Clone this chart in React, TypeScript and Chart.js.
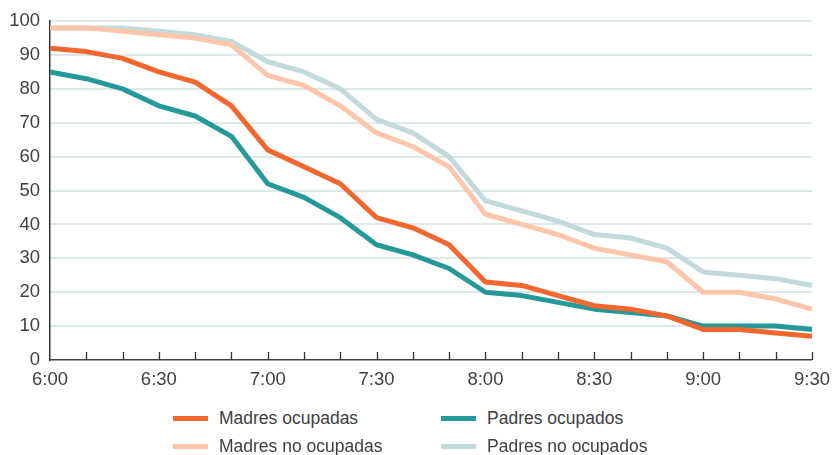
import React, { useEffect, useRef } from "react";
import { Chart, registerables } from "chart.js";

Chart.register(...registerables);

const times = [
  "6:00", "6:10", "6:20", "6:30", "6:40", "6:50",
  "7:00", "7:10", "7:20", "7:30", "7:40", "7:50",
  "8:00", "8:10", "8:20", "8:30", "8:40", "8:50",
  "9:00", "9:10", "9:20", "9:30",
];
const shownTimeLabels = ["6:00", "6:30", "7:00", "7:30", "8:00", "8:30", "9:00", "9:30"];

const madresOcupadas = [92, 91, 89, 85, 82, 75, 62, 57, 52, 42, 39, 34, 23, 22, 19, 16, 15, 13, 9, 9, 8, 7];
const padresOcupados = [85, 83, 80, 75, 72, 66, 52, 48, 42, 34, 31, 27, 20, 19, 17, 15, 14, 13, 10, 10, 10, 9];
const madresNoOcupadas = [98, 98, 97, 96, 95, 93, 84, 81, 75, 67, 63, 57, 43, 40, 37, 33, 31, 29, 20, 20, 18, 15];
const padresNoOcupados = [98, 98, 98, 97, 96, 94, 88, 85, 80, 71, 67, 60, 47, 44, 41, 37, 36, 33, 26, 25, 24, 22];

const seriesNames = ["Madres ocupadas", "Padres ocupados", "Madres no ocupadas", "Padres no ocupados"];
const seriesColors = ["#f2662f", "#25989a", "#fdc6aa", "#c3d9db"];

const FONT = "'Liberation Sans', Arial, sans-serif";

const upTicksPlugin = {
  id: "upTicks",
  afterDraw(chart: any) {
    const xs = chart.scales.x;
    const bottom = chart.chartArea.bottom;
    const ctx = chart.ctx;
    ctx.save();
    ctx.strokeStyle = "#333333";
    ctx.lineWidth = 1.3;
    for (let i = 1; i < times.length; i++) {
      const x = Math.round(xs.getPixelForValue(i)) + 0.5;
      ctx.beginPath();
      ctx.moveTo(x, bottom - 8);
      ctx.lineTo(x, bottom);
      ctx.stroke();
    }
    ctx.restore();
  },
};

export default function App() {
  const canvasRef = useRef<HTMLCanvasElement | null>(null);

  useEffect(() => {
    if (!canvasRef.current) return;
    const allSeries = [madresOcupadas, padresOcupados, madresNoOcupadas, padresNoOcupados];
    const chart = new Chart(canvasRef.current, {
      type: "line",
      data: {
        labels: times,
        datasets: allSeries.map((d, i) => ({
          label: seriesNames[i],
          data: d,
          borderColor: seriesColors[i],
          backgroundColor: seriesColors[i],
          borderWidth: 5,
          pointRadius: 0,
          tension: 0,
          fill: false,
          borderJoinStyle: "round" as const,
        })),
      },
      options: {
        responsive: false,
        animation: false,
        layout: { padding: { left: 0, right: 21, top: 20, bottom: 0 } },
        plugins: { legend: { display: false }, tooltip: { enabled: false } },
        scales: {
          x: {
            type: "category",
            grid: { display: false, drawTicks: false },
            border: { display: true, color: "#444444", width: 1.5 },
            ticks: {
              autoSkip: false,
              maxRotation: 0,
              padding: 9,
              color: "#404040",
              font: { family: FONT, size: 18.5 },
              callback: (_v: any, i: number) =>
                shownTimeLabels.includes(times[i]) ? times[i] : "",
            },
            afterFit: (s: any) => {
              s.height = 35;
            },
          },
          y: {
            min: 0,
            max: 100,
            grid: {
              drawTicks: false,
              lineWidth: 2,
              color: (c: any) => (c.tick && c.tick.value === 0 ? "rgba(0,0,0,0)" : "#dce8ea"),
            },
            border: { display: true, color: "#333333", width: 1.5 },
            ticks: {
              stepSize: 10,
              padding: 10,
              color: "#404040",
              font: { family: FONT, size: 18.5 },
            },
            afterFit: (s: any) => {
              s.width = 50;
            },
          },
        },
      },
      plugins: [upTicksPlugin],
    });
    return () => chart.destroy();
  }, []);

  const legendItems = [
    { name: seriesNames[0], color: seriesColors[0], x: 173, y: 418 },
    { name: seriesNames[1], color: seriesColors[1], x: 441, y: 418 },
    { name: seriesNames[2], color: seriesColors[2], x: 173, y: 446 },
    { name: seriesNames[3], color: seriesColors[3], x: 441, y: 446 },
  ];

  return (
    <div style={{ position: "fixed", left: 0, top: 0, width: 839, height: 455, background: "#fff" }}>
      <canvas ref={canvasRef} width={839} height={395} style={{ display: "block" }} />
      {legendItems.map((it) => (
        <div
          key={it.name}
          style={{
            position: "absolute",
            left: it.x,
            top: it.y - 12,
            height: 24,
            display: "flex",
            alignItems: "center",
            fontFamily: FONT,
            fontSize: 17.5,
            color: "#404040",
            whiteSpace: "nowrap",
          }}
        >
          <span style={{ display: "inline-block", width: 35, height: 5, background: it.color, marginRight: 11 }} />
          <span>{it.name}</span>
        </div>
      ))}
    </div>
  );
}
